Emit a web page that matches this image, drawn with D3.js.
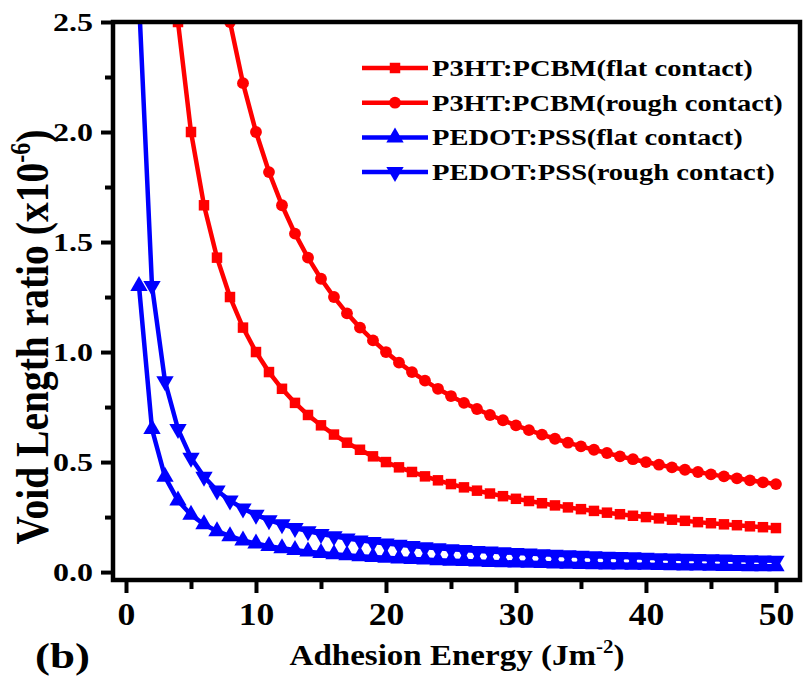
<!DOCTYPE html>
<html>
<head>
<meta charset="utf-8">
<script src="https://cdn.jsdelivr.net/npm/d3@7"></script>
</head>
<body style="margin:0;background:#fff">
<svg id="chart" width="807" height="698"></svg>
<script>
// Adhesion energy (J m^-2)
const energy = [1,2,3,4,5,6,7,8,9,10,11,12,13,14,15,16,17,18,19,20,21,22,23,24,25,26,27,28,29,30,31,32,33,34,35,36,37,38,39,40,41,42,43,44,45,46,47,48,49,50];

// Void length ratio (x10^-6)
const p3htFlat = [10,5,3.333,2.5,2,1.667,1.429,1.25,1.111,1,0.909,0.833,0.769,0.714,0.667,0.625,0.588,0.556,0.526,0.5,0.476,0.455,0.435,0.417,0.4,0.385,0.37,0.357,0.345,0.333,0.323,0.313,0.303,0.294,0.286,0.278,0.27,0.263,0.256,0.25,0.244,0.238,0.233,0.227,0.222,0.217,0.213,0.208,0.204,0.2];
const p3htRough = [20,10,6.667,5,4,3.333,2.857,2.5,2.222,2,1.818,1.667,1.538,1.429,1.333,1.25,1.176,1.111,1.053,1,0.952,0.909,0.87,0.833,0.8,0.769,0.741,0.714,0.69,0.667,0.645,0.625,0.606,0.588,0.571,0.556,0.541,0.526,0.513,0.5,0.488,0.476,0.465,0.455,0.444,0.435,0.426,0.417,0.408,0.4];
const pedotFlat = [1.3,0.65,0.433,0.325,0.26,0.217,0.186,0.163,0.144,0.13,0.118,0.108,0.1,0.093,0.087,0.081,0.076,0.072,0.068,0.065,0.062,0.059,0.057,0.054,0.052,0.05,0.048,0.046,0.045,0.043,0.042,0.041,0.039,0.038,0.037,0.036,0.035,0.034,0.033,0.033,0.032,0.031,0.03,0.03,0.029,0.028,0.028,0.027,0.027,0.026];
const pedotRough = [2.6,1.3,0.867,0.65,0.52,0.433,0.371,0.325,0.289,0.26,0.236,0.217,0.2,0.186,0.173,0.163,0.153,0.144,0.137,0.13,0.124,0.118,0.113,0.108,0.104,0.1,0.096,0.093,0.09,0.087,0.084,0.081,0.079,0.076,0.074,0.072,0.07,0.068,0.067,0.065,0.063,0.062,0.06,0.059,0.058,0.057,0.055,0.054,0.053,0.052];

const seriesNames = ["P3HT:PCBM(flat contact)", "P3HT:PCBM(rough contact)", "PEDOT:PSS(flat contact)", "PEDOT:PSS(rough contact)"];
const seriesValues = [p3htFlat, p3htRough, pedotFlat, pedotRough];
const seriesColors = ["#ff0000", "#ff0000", "#0000ff", "#0000ff"];
const seriesSymbols = [d3.symbolSquare, d3.symbolCircle, d3.symbolTriangle, "triangleDown"];

const xTicks = [0, 10, 20, 30, 40, 50];
const xMinorTicks = [5, 15, 25, 35, 45];
const yTicks = [0.0, 0.5, 1.0, 1.5, 2.0, 2.5];
const yMinorTicks = [0.25, 0.75, 1.25, 1.75, 2.25];

const FONT = '"Liberation Serif"';

const svg = d3.select("#chart");
const plotLeft = 113, plotRight = 800, plotTop = 22, plotBottom = 580;

const x = d3.scaleLinear().domain([-1, 51.85]).range([plotLeft, plotRight]);
const y = d3.scaleLinear().domain([-0.036, 2.5]).range([plotBottom, plotTop]);

// bold serif text style
function boldSerif(sel, size) {
  return sel.style("font-family", FONT).style("font-weight", "bold")
    .style("font-size", size + "px").attr("fill", "#000");
}

// stretch a text horizontally to a given width, keeping its anchor point fixed
function fitWidth(sel, width, ax, ay, ky = 1) {
  const w = sel.node().getBBox().width;
  const k = width / w;
  sel.attr("transform", `translate(${ax},${ay}) scale(${k},${ky}) translate(${-ax},${-ay})`);
}

// clip region = plot frame
svg.append("defs").append("clipPath").attr("id", "plotClip")
  .append("rect").attr("x", plotLeft).attr("y", plotTop)
  .attr("width", plotRight - plotLeft).attr("height", plotBottom - plotTop);

const symbolPath = (sym, size) =>
  sym === "triangleDown" ? d3.symbol(d3.symbolTriangle, size)() : d3.symbol(sym, size)();
const symbolRotate = sym => sym === "triangleDown" ? " rotate(180)" : "";
const symbolSizes = [110, 110, 130, 130];

const plot = svg.append("g").attr("clip-path", "url(#plotClip)");
const line = d3.line().x((d, i) => x(energy[i])).y(d => y(d));

seriesValues.forEach((vals, k) => {
  const g = plot.append("g");
  g.append("path").datum(vals)
    .attr("d", line)
    .attr("fill", "none")
    .attr("stroke", seriesColors[k])
    .attr("stroke-width", 4.5);
  g.selectAll("path.m").data(vals).join("path")
    .attr("class", "m")
    .attr("d", symbolPath(seriesSymbols[k], symbolSizes[k]))
    .attr("transform", (d, i) => `translate(${x(energy[i])},${y(d)})` + symbolRotate(seriesSymbols[k]))
    .attr("fill", seriesColors[k]);
});

// frame
svg.append("rect").attr("x", plotLeft).attr("y", plotTop)
  .attr("width", plotRight - plotLeft).attr("height", plotBottom - plotTop)
  .attr("fill", "none").attr("stroke", "#000").attr("stroke-width", 4.5);

// x axis
const xAxis = svg.append("g").attr("transform", `translate(0,${plotBottom})`)
  .call(d3.axisBottom(x).tickValues(xTicks).tickFormat(d3.format("d")).tickSize(13).tickPadding(10));
svg.append("g").attr("transform", `translate(0,${plotBottom})`)
  .call(d3.axisBottom(x).tickValues(xMinorTicks).tickFormat("").tickSize(9));

// y axis
const yAxis = svg.append("g").attr("transform", `translate(${plotLeft},0)`)
  .call(d3.axisLeft(y).tickValues(yTicks).tickFormat(d3.format(".1f")).tickSize(12).tickPadding(8));
svg.append("g").attr("transform", `translate(${plotLeft},0)`)
  .call(d3.axisLeft(y).tickValues(yMinorTicks).tickFormat("").tickSize(8));

svg.selectAll(".domain").remove();
svg.selectAll("g[font-family]").attr("font-family", null).attr("font-size", null);
svg.selectAll(".tick line").attr("stroke", "#000").attr("stroke-width", 4);

xAxis.selectAll(".tick text").call(boldSerif, 31).attr("dy", "0.72em")
  .each(function () {
    const t = d3.select(this);
    const w = t.node().getBBox().width;
    fitWidth(t, w * 1.15, 0, 0);
  });
yAxis.selectAll(".tick text").call(boldSerif, 26)
  .each(function () {
    const t = d3.select(this);
    fitWidth(t, 40, +t.attr("x"), 0);
  });

// axis titles
const xTitle = svg.append("text")
  .attr("x", 457).attr("y", 665).attr("text-anchor", "middle").call(boldSerif, 30)
  .html('Adhesion Energy (Jm<tspan dy="-12" style="font-size:19px">-2</tspan><tspan dy="12">)</tspan>');
fitWidth(xTitle, 335, 457, 665);

const yTitleG = svg.append("g").attr("transform", "translate(48,337) rotate(-90)");
const yTitle = yTitleG.append("text")
  .attr("x", 0).attr("y", 0).attr("text-anchor", "middle").call(boldSerif, 36)
  .html('Void Length ratio (x10<tspan dy="-14" style="font-size:22px">-6</tspan><tspan dy="14">)</tspan>');
fitWidth(yTitle, 415, 0, 0, 1.3);

const panel = svg.append("text").attr("x", 35).attr("y", 668).call(boldSerif, 36).text("(b)");
fitWidth(panel, 55, 35, 668);

// legend
const legend = svg.append("g");
const legendWidths = [321, 351, 311, 343];
seriesNames.forEach((name, k) => {
  const ly = 68 + k * 34.7;
  legend.append("line").attr("x1", 362).attr("x2", 428).attr("y1", ly).attr("y2", ly)
    .attr("stroke", seriesColors[k]).attr("stroke-width", 4.5);
  legend.append("path")
    .attr("d", symbolPath(seriesSymbols[k], symbolSizes[k]))
    .attr("transform", `translate(395,${ly})` + symbolRotate(seriesSymbols[k]))
    .attr("fill", seriesColors[k]);
  const t = legend.append("text").attr("x", 432).attr("y", ly).attr("dy", "0.35em")
    .call(boldSerif, 23).text(name);
  fitWidth(t, legendWidths[k], 432, ly);
});
</script>
</body>
</html>
